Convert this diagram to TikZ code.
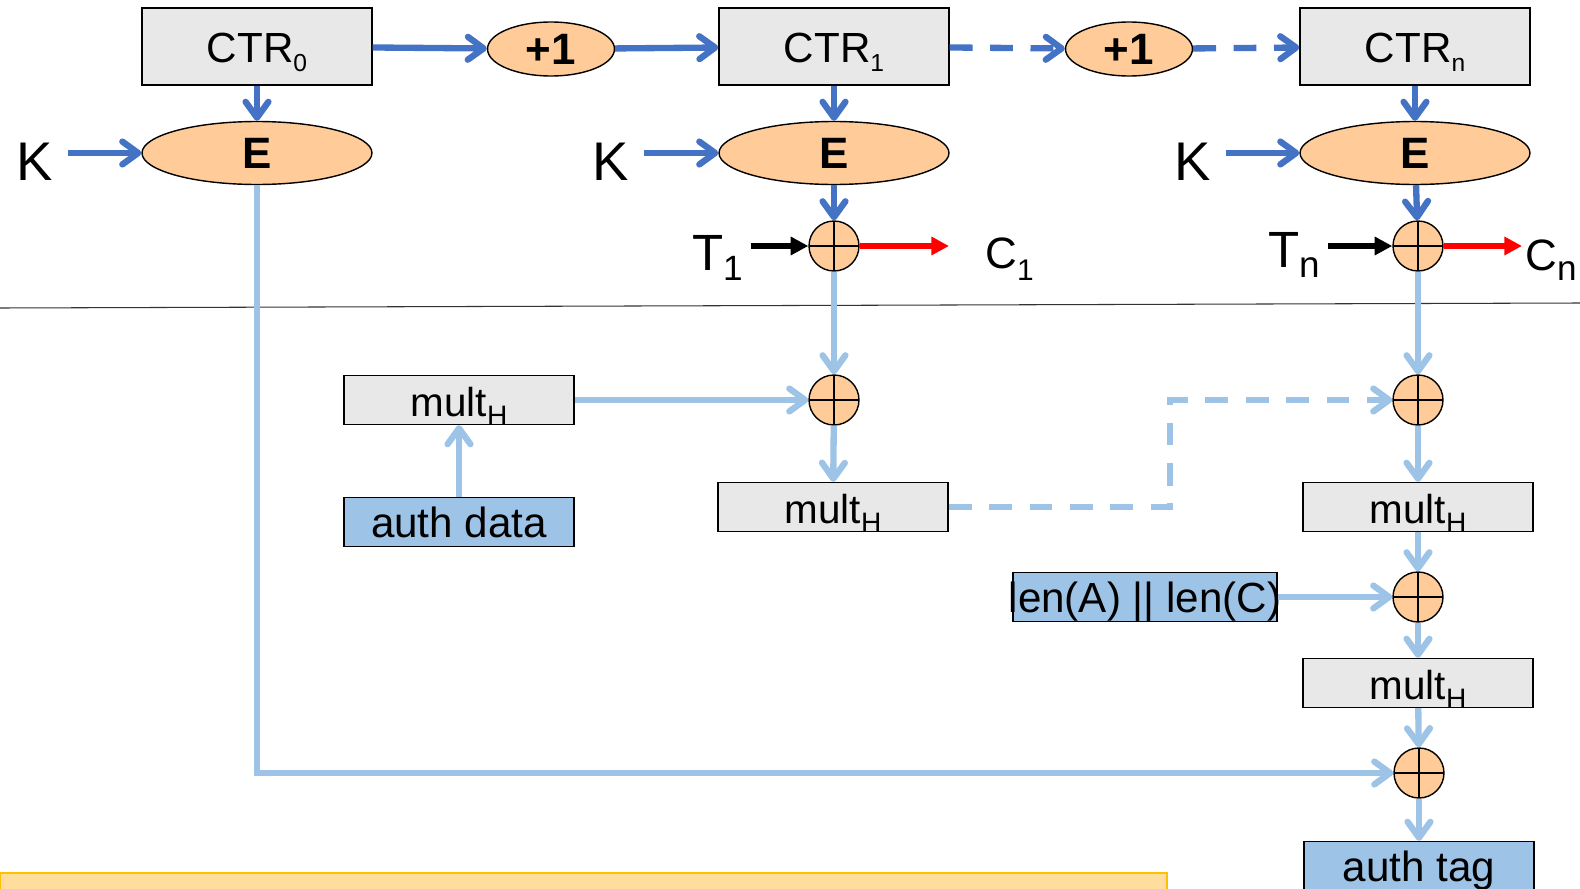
\documentclass[tikz,border=0pt]{standalone}
\usepackage{fontspec}
\setmainfont{Liberation Sans}
\usetikzlibrary{arrows.meta,shapes.geometric}
\definecolor{ctrblue}{HTML}{4472C4}
\definecolor{macblue}{HTML}{9DC3E6}
\definecolor{encorange}{HTML}{FFCC99}
\definecolor{boxgray}{HTML}{E8E8E8}
\definecolor{notefill}{HTML}{FFDD9C}
\definecolor{noteline}{HTML}{FFC000}
\newcommand{\dsub}[3]{\raisebox{-#1pt}{\fontsize{#2}{#2}\selectfont #3}}
\tikzset{
  ctrbox/.style={draw, line width=0.8pt, fill=boxgray, minimum width=4.6cm, minimum height=1.54cm,
    inner sep=0pt, text height=20pt, text depth=2pt, font=\fontsize{24}{28}\selectfont},
  multbox/.style={draw, line width=0.8pt, fill=boxgray, minimum width=4.6cm, minimum height=0.98cm,
    inner sep=0pt, text height=21pt, text depth=2pt, font=\fontsize{23}{26}\selectfont},
  databox/.style={multbox, fill=macblue, text height=19.5pt, font=\fontsize{24}{26}\selectfont},
  encell/.style={ellipse, draw, line width=0.8pt, fill=encorange, minimum width=4.6cm,
    minimum height=1.26cm, inner sep=0pt, font=\bfseries\fontsize{25}{28}\selectfont},
  incell/.style={encell, minimum width=2.54cm, minimum height=1.08cm},
  xorop/.style={circle, draw, line width=0.8pt, fill=encorange, minimum size=1cm, inner sep=0pt,
    path picture={\draw[line width=0.8pt] (path picture bounding box.north) -- (path picture bounding box.south)
      (path picture bounding box.west) -- (path picture bounding box.east);}},
  keylabel/.style={inner xsep=8pt, inner ysep=0pt, font=\fontsize{31}{34}\selectfont},
  tlabel/.style={inner xsep=4.5pt, inner ysep=0pt, anchor=base east, font=\fontsize{29}{32}\selectfont},
  clabel/.style={inner sep=0pt, anchor=base west, font=\fontsize{25}{30}\selectfont},
  darrow/.style={ctrblue, line width=3.6pt, -{Straight Barb[length=9pt,width=13pt,round]}},
  larrow/.style={macblue, line width=3.6pt, -{Straight Barb[length=9pt,width=13pt,round]}},
  flowdash/.style={dash pattern=on 13pt off 10pt},
  outarrow/.style={line width=3.2pt, -{Triangle[length=10pt,width=10pt]}},
}
\begin{document}
\begin{tikzpicture}[x=0.02cm, y=-0.02cm]
\useasboundingbox (0,0) rectangle (1580,889);
% counter row
\node[ctrbox] (ctr0) at (257,46.5) {CTR\dsub{5.5}{14}{0}};
\node[incell] (inc0) at (551,49) {+1};
\node[ctrbox] (ctr1) at (834,46.5) {CTR\dsub{5.5}{14}{1}};
\node[incell] (inc1) at (1129,49) {+1};
\node[ctrbox] (ctrn) at (1415,46.5) {CTR\dsub{5.5}{14}{n}};
\node[encell] (enc0) at (257,153) {E};
\node[encell] (enc1) at (834,153) {E};
\node[encell] (encn) at (1415,153) {E};
\node[keylabel] (k0) at (35,162) {K};
\node[keylabel] (k1) at (611,162) {K};
\node[keylabel] (kn) at (1193,162) {K};
\node[xorop] (xor1) at (834,246) {};
\node[xorop] (xorn) at (1418,246) {};
\node[tlabel] (t1) at (751,270) {T\dsub{6}{20}{1}};
\node[tlabel] (tn) at (1328,267) {T\dsub{6}{21}{n}};
\node[clabel] (c1) at (985,268) {C\dsub{7}{17}{1}};
\node[clabel] (cn) at (1525,270) {C\dsub{6}{20}{n}};
\coordinate (c1end) at (949,246);
\coordinate (cnend) at (1522,246);
\draw[darrow] (ctr0) -- (inc0);
\draw[darrow] (inc0) -- (ctr1);
\draw[darrow, flowdash] (ctr1) -- (inc1);
\draw[darrow, flowdash] (inc1) -- (ctrn);
\foreach \i in {0,1,n}{
  \draw[darrow] (ctr\i) -- (enc\i);
  \draw[darrow] (k\i.east |- enc\i.west) -- (enc\i.west);
}
\draw[darrow] (enc1) -- (xor1);
\draw[darrow] (encn) -- (xorn);
\draw[outarrow] (t1.east |- xor1.west) -- (xor1.west);
\draw[outarrow] (tn.east |- xorn.west) -- (xorn.west);
\draw[outarrow, red] (xor1.east) -- (c1end);
\draw[outarrow, red] (xorn.east) -- (cnend);
\draw[line width=0.6pt, black!80] (0,308) -- (1580,303);
% hash part
\node[multbox] (multa) at (459,400) {mult\dsub{5}{16}{H}};
\node[databox] (auth) at (459,522) {auth data};
\node[xorop] (xor12) at (834,400) {};
\node[multbox] (mult1) at (833,507) {mult\dsub{5}{16}{H}};
\node[xorop] (xor22) at (1418,400) {};
\node[multbox] (mult2) at (1418,507) {mult\dsub{5}{16}{H}};
\node[databox, minimum width=5.28cm, inner sep=0pt] (lens) at (1145,597)
  {\makebox[5.28cm]{len(A) || len(C)}};
\node[xorop] (xor3) at (1418,597) {};
\node[multbox] (mult3) at (1418,683) {mult\dsub{5}{16}{H}};
\node[xorop] (xor4) at (1419,773) {};
\node[databox] (tag) at (1419,866) {auth tag};
\coordinate (bend) at (1170,400);
\draw[larrow] (xor1) -- (xor12);
\draw[larrow] (multa) -- (xor12);
\draw[larrow] (auth) -- (multa);
\draw[larrow] (xor12) -- (mult1);
\draw[larrow, flowdash] (mult1.east) -| (bend) -- (xor22.west);
\draw[larrow] (xorn) -- (xor22);
\draw[larrow] (xor22) -- (mult2);
\draw[larrow] (mult2) -- (xor3);
\draw[larrow] (lens) -- (xor3);
\draw[larrow] (xor3) -- (mult3);
\draw[larrow] (mult3) -- (xor4);
\draw[larrow] (enc0.south) |- (xor4.west);
\draw[larrow] (xor4) -- (tag);
\draw[noteline, fill=notefill, line width=0.8pt] (0,873) rectangle (1167,900);
\end{tikzpicture}
\end{document}
